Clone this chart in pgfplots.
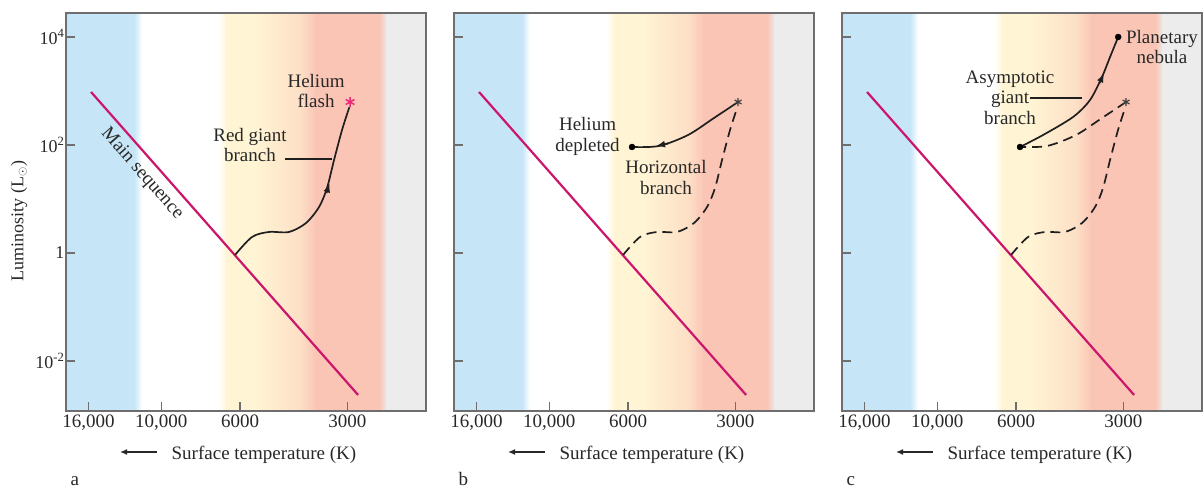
\documentclass[border=0pt]{standalone}
\usepackage{fontspec}
\setmainfont{Liberation Serif}
\usepackage{pgfplots}
\pgfplotsset{compat=1.18}
\usepackage{pgfplotstable}
\usetikzlibrary{arrows.meta}

\definecolor{bandblue}{RGB}{198,230,247}
\definecolor{bandyellow}{RGB}{255,244,212}
\definecolor{bandpeach}{RGB}{253,223,198}
\definecolor{bandsalmon}{RGB}{250,197,181}
\definecolor{bandgray}{RGB}{236,236,236}
\definecolor{msred}{RGB}{204,22,108}
\definecolor{flashpink}{RGB}{236,40,120}
\definecolor{framegray}{RGB}{110,110,110}
\definecolor{txt}{RGB}{40,40,40}

% main sequence
\pgfplotstableread{
T L
15740 958
2797 0.00235
}\mainseq

% red giant branch
\pgfplotstableread{
T L
6200 0.92
5555 1.98
4977 2.45
4373 2.45
3917 3.59
3601 7.11
3420 16.0
3268 52.7
3103 190
2960 500
}\redgiant

% horizontal branch, from the flash to helium depletion
\pgfplotstableread{
T L
2946 625
3443 316
4072 153
4912 95.8
5851 91.8
}\horizontal

% asymptotic giant branch
\pgfplotstableread{
T L
5851 91.8
5041 153
4151 330
3720 681
3443 1816
3268 4264
3100 10000
}\asymptotic

\newcommand{\band}[4]{%
  \addplot[draw=none, left color=#3, right color=#4]
    coordinates {(#1,0.0011858) (#1,27797) (#2,27797) (#2,0.0011858)};}
\newcommand{\bands}{%
  \band{18510}{11800}{bandblue}{bandblue}
  \band{11920}{11320}{bandblue}{white}
  \band{6922}{6500}{white}{bandyellow}
  \band{6572}{5400}{bandyellow}{bandyellow}
  \band{5450}{4030}{bandyellow}{bandpeach}
  \band{4072}{3660}{bandpeach}{bandsalmon}
  \band{3697}{2420}{bandsalmon}{bandsalmon}
  \band{2443}{2305}{bandsalmon}{bandgray}
  \band{2330}{1803}{bandgray}{bandgray}}

% arrow and panel letter under an axis
\newcommand{\underaxis}[2]{%
  \draw[txt, line width=1.3pt, -{Latex[length=7pt,width=6pt]}]
    ([xshift=91pt, yshift=-41pt]#1.south west) -- ++(-37pt,0);
  \node[lab, anchor=base west] at ([xshift=1pt, yshift=-75pt]#1.south west) {#2};}

\tikzset{lab/.style={font=\fontsize{19}{20.5}\selectfont, text=txt}}
\pgfplotsset{every axis/.append style={
    scale only axis, width=360pt, height=398pt,
    xmode=log, ymode=log, x dir=reverse,
    xmin=1803, xmax=18510, ymin=0.0011858, ymax=27797,
    xtick={16000,10000,6000,3000},
    xticklabels={{16,000},{10,000},6000,3000},
    ytick={0.01,1,100,10000},
    xtick pos=bottom, ytick pos=left,
    tick align=inside, major tick length=9pt, minor tick length=0pt,
    axis line style={draw=framegray, line width=1.5pt},
    tick style={draw=framegray, line width=1.3pt},
    xticklabel style={font=\fontsize{19}{21}\selectfont, text=txt},
    yticklabel style={font=\fontsize{18}{20}\selectfont, text=txt, xshift=2pt},
    xlabel={Surface temperature (K)},
    xlabel style={font=\fontsize{19}{21}\selectfont, text=txt, xshift=18pt, yshift=-9pt},
    axis on top, clip=false}}

\begin{document}
\begin{tikzpicture}
\path (0,0) rectangle (1203pt,486pt);

% panel a
\begin{axis}[name=pa, at={(66pt,75pt)}, anchor=south west,
  yticklabels={10\textsuperscript{-2},1,10\textsuperscript{2},10\textsuperscript{4}}]
\bands
\addplot[draw=msred, line width=2.2pt] table {\mainseq};
\addplot[draw=black!88, line width=1.7pt, smooth] table {\redgiant};
\addplot[draw=black!88, line width=1.7pt, -{Latex[length=9pt,width=7pt]}] coordinates {(3432,12.9) (3365,19.4)};
\addplot[only marks, mark=asterisk, mark size=5pt, flashpink, line width=1.5pt] coordinates {(2946,625)};
\node[lab, align=center] at (axis cs:3672,1000) {Helium\\flash};
\node[lab, align=center] at (axis cs:5628,100) {Red giant\\branch};
\draw[black!88, line width=1.5pt] (axis cs:4487,55) -- (axis cs:3311,55);
\node[lab, rotate=-48.6] at (axis cs:11320,29) {Main sequence};
\end{axis}
\underaxis{pa}{a}
\node[font=\fontsize{18}{20}\selectfont, text=txt, rotate=90]
  at ([xshift=-47pt, yshift=-9pt]pa.west) {Luminosity (L$_\odot$)};

% panel b
\begin{axis}[name=pb, at={(454pt,75pt)}, anchor=south west, yticklabels={,,,}]
\bands
\addplot[draw=msred, line width=2.2pt] table {\mainseq};
\addplot[draw=black!88, line width=1.7pt, smooth, dash pattern=on 10pt off 6pt] table {\redgiant};
\addplot[draw=black!88, line width=1.7pt, smooth] table {\horizontal};
\addplot[draw=black!88, line width=1.7pt, -{Latex[length=9pt,width=7pt]}] coordinates {(4634,106.6) (5008,95.8)};
\addplot[only marks, mark=*, mark size=3pt, black] coordinates {(5851,91.8)};
\addplot[only marks, mark=asterisk, mark size=4pt, black!75, line width=1.2pt] coordinates {(2946,625)};
\node[lab, align=center] at (axis cs:7802,143.6) {Helium\\depleted};
\node[lab, align=center] at (axis cs:4694,25) {Horizontal\\branch};
\end{axis}
\underaxis{pb}{b}

% panel c
\begin{axis}[name=pc, at={(842pt,75pt)}, anchor=south west, yticklabels={,,,}]
\bands
\addplot[draw=msred, line width=2.2pt] table {\mainseq};
\addplot[draw=black!88, line width=1.7pt, smooth, dash pattern=on 10pt off 6pt] table {\redgiant};
\addplot[draw=black!88, line width=1.7pt, smooth, dash pattern=on 10pt off 6pt] table {\horizontal};
\addplot[draw=black!88, line width=1.7pt, smooth] table {\asymptotic};
\addplot[draw=black!88, line width=1.7pt, -{Latex[length=9pt,width=7pt]}] coordinates {(3498,1406) (3397,2109)};
\addplot[only marks, mark=*, mark size=3pt, black] coordinates {(5851,91.8) (3100,10000)};
\addplot[only marks, mark=asterisk, mark size=4pt, black!75, line width=1.2pt] coordinates {(2946,625)};
\node[lab, align=center] at (axis cs:6241,758) {Asymptotic\\giant\\branch};
\draw[black!88, line width=1.5pt] (axis cs:5484,742) -- (axis cs:3917,742);
\node[lab, align=center] at (axis cs:2335,6531) {Planetary\\nebula};
\end{axis}
\underaxis{pc}{c}
\end{tikzpicture}
\end{document}
